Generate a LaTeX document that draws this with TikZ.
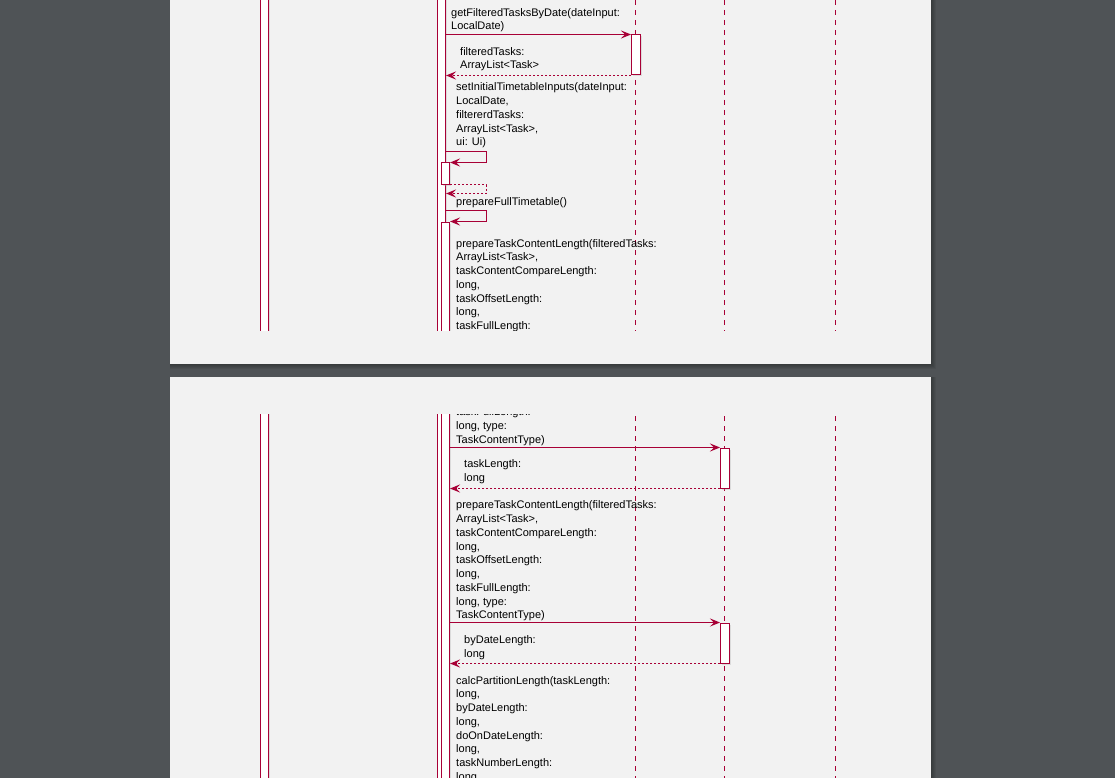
\documentclass[tikz,border=0pt]{standalone}
\usepackage{fontspec}
\setmainfont{Liberation Sans}
\usetikzlibrary{arrows.meta,shadows}
\definecolor{umlred}{HTML}{A80036}
\definecolor{deskgray}{HTML}{4F5356}
\definecolor{paper}{HTML}{F2F2F2}
\tikzset{
  act/.style={draw=umlred, fill=white, line width=1pt, minimum width=9pt, inner sep=0pt,
    drop shadow={shadow xshift=1.5pt, shadow yshift=-1.5pt, fill=black!30, opacity=0.35}},
  lifeline/.style={draw=umlred, line width=1pt, dash pattern=on 5pt off 5pt},
  msg/.style={draw=umlred, line width=1pt, -{Stealth[length=10pt,width=8pt,inset=4pt]}},
  ret/.style={msg, dash pattern=on 2pt off 2pt},
  lbl/.style={anchor=south west, inner sep=0pt, text depth=0pt, align=left,
    text=black, font=\fontsize{11}{13.75}\selectfont},
}
% the whole sequence, drawn once per page
\newcommand{\seqdiagram}{%
  \draw[lifeline] (635.5,-60) -- (635.5,860);
  \draw[lifeline] (724.5,-60) -- (724.5,860);
  \draw[lifeline] (835.5,-60) -- (835.5,860);
  \node[act, minimum width=8pt, minimum height=920pt] (userBar) at (264.5,400) {};
  \node[act, minimum width=8pt, minimum height=920pt] (logicBar) at (441.5,400) {};
  \node[act, minimum height=40pt, anchor=north] (filterBox) at (636,34.5) {};
  \node[act, minimum width=8pt, minimum height=21pt, anchor=north] (initBox) at (445.5,162.5) {};
  \node[act, minimum width=8pt, minimum height=700pt, anchor=north] (fullBox) at (445.5,221.5) {};
  \node[act, minimum height=40pt, anchor=north] (taskLenBox) at (725,361.5) {};
  \node[act, minimum height=40pt, anchor=north] (dateLenBox) at (725,536.5) {};
  % calls and returns
  \draw[msg] (logicBar.east |- filterBox.north) -- (filterBox.north west);
  \node[lbl] (filterLbl) at (451,30) {getFilteredTasksByDate(dateInput:\\LocalDate)};
  \draw[ret] (filterBox.south west) -- (logicBar.east |- filterBox.south);
  \node[lbl] (filterRetLbl) at (460,69) {filteredTasks:\\ArrayList<Task>};
  \draw[msg] (logicBar.east |- 0,151.5) -- ++(40,0) |- (initBox.north east);
  \node[lbl] (initLbl) at (456,146) {setInitialTimetableInputs(dateInput:\\LocalDate,\\filtererdTasks:\\ArrayList<Task>,\\ui: Ui)};
  \draw[ret] (initBox.south east) -- ++(36,0) |- (logicBar.east |- 0,193.5);
  \draw[msg] (logicBar.east |- 0,210.5) -- ++(40,0) |- (fullBox.north east);
  \node[lbl] (fullLbl) at (456,206) {prepareFullTimetable()};
  \draw[msg] (fullBox.east |- taskLenBox.north) -- (taskLenBox.north west);
  \node[lbl] (taskLenLbl) at (456,357.3) {prepareTaskContentLength(filteredTasks:\\ArrayList<Task>,\\taskContentCompareLength:\\long,\\taskOffsetLength:\\long,\\taskFullLength:\\long, type:\\TaskContentType)};
  \draw[ret] (taskLenBox.south west) -- (fullBox.east |- taskLenBox.south);
  \node[lbl] (taskLenRetLbl) at (464,395.7) {taskLength:\\long};
  \draw[msg] (fullBox.east |- dateLenBox.north) -- (dateLenBox.north west);
  \node[lbl] (dateLenLbl) at (456,533) {prepareTaskContentLength(filteredTasks:\\ArrayList<Task>,\\taskContentCompareLength:\\long,\\taskOffsetLength:\\long,\\taskFullLength:\\long, type:\\TaskContentType)};
  \draw[ret] (dateLenBox.south west) -- (fullBox.east |- dateLenBox.south);
  \node[lbl] (dateLenRetLbl) at (464,571.7) {byDateLength:\\long};
  \node[lbl] (partitionLbl) at (456,694.5) {calcPartitionLength(taskLength:\\long,\\byDateLength:\\long,\\doOnDateLength:\\long,\\taskNumberLength:\\long};
}
\begin{document}
\begin{tikzpicture}[x=1pt, y=-1pt]
   \useasboundingbox (0,0) rectangle (1115,778);
   \fill[deskgray] (0,0) rectangle (1115,778);
   % page shadows
   \foreach \s in {1,...,5} {
      \fill[black, opacity=0.06] (170,-10) rectangle (931+\s,364+\s);
      \fill[black, opacity=0.06] (170,377) rectangle (931+\s,800);
   }
   \fill[paper] (170,-10) rectangle (931,364);
   \fill[paper] (170,377) rectangle (931,800);
   % page 1
   \begin{scope}
      \clip (170,0) rectangle (931,330);
      \seqdiagram
   \end{scope}
   % page 2
   \begin{scope}
      \clip (170,414.5) rectangle (931,778);
      \begin{scope}[yshift=-86pt]
         \seqdiagram
      \end{scope}
   \end{scope}
\end{tikzpicture}
\end{document}
